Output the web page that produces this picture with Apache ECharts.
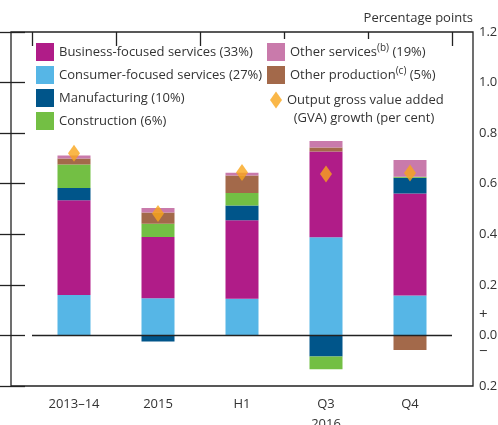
<!DOCTYPE html>
<html>
<head>
<meta charset="utf-8">
<script src="https://cdn.jsdelivr.net/npm/echarts@6/dist/echarts.min.js"></script>
<style>
  html, body { margin: 0; padding: 0; background: #fff; }
  #chart { width: 498px; height: 425px; }
</style>
</head>
<body>
<div id="chart"></div>
<script>
// categories (2016 half/quarters grouped under one label)
var categories = ['2013–14', '2015', 'H1', 'Q3\n2016', 'Q4'];
// contributions, percentage points
var consumer = [0.160, 0.147, 0.145, 0.388, 0.158];
var business = [0.375, 0.242, 0.311, 0.339, 0.403];
var manufacturing = [0.048, -0.024, 0.058, -0.083, 0.063];
var construction = [0.093, 0.053, 0.049, -0.051, 0.004];
var otherProduction = [0.024, 0.044, 0.069, 0.016, -0.058];
var otherServices = [0.012, 0.018, 0.011, 0.026, 0.066];
// GVA growth, per cent
var gva = [0.720, 0.482, 0.644, 0.638, 0.642];
// y axis ticks
var yMin = -0.2, yMax = 1.2, yStep = 0.2;

var font = '"Open Sans", "Noto Sans", sans-serif';
var textColor = '#333';

var chart = echarts.init(document.getElementById('chart'));

function bar(name, data, color) {
  return {
    name: name,
    type: 'bar',
    stack: 'total',
    xAxisIndex: 0,
    yAxisIndex: 2,
    barWidth: 33,
    data: data,
    itemStyle: { color: color },
    emphasis: { disabled: true }
  };
}

var series = [
  bar('Consumer-focused services (27%)', consumer, '#56B6E6'),
  bar('Business-focused services (33%)', business, '#B01C88'),
  bar('Manufacturing (10%)', manufacturing, '#00558A'),
  bar('Construction (6%)', construction, '#73BF44'),
  bar('Other production (5%)', otherProduction, '#A3694A'),
  bar('Other services (19%)', otherServices, '#C97AAB'),
  {
    name: 'GVA',
    type: 'scatter',
    xAxisIndex: 0,
    yAxisIndex: 2,
    symbol: 'diamond',
    symbolSize: [12, 17],
    data: gva,
    itemStyle: { color: '#F9A51A' },
    z: 5
  }
];
// zero line across the bar area
series[0].markLine = {
  silent: true,
  symbol: 'none',
  label: { show: false },
  lineStyle: { color: '#222', type: 'solid', width: 1.3 },
  data: [{ yAxis: 0 }]
};

var legendText = {
  fontFamily: font,
  fontSize: 13,
  color: textColor,
  rich: {
    s: { fontFamily: font, fontSize: 10, color: textColor, padding: [0, 0, 7, 0] }
  }
};

var option = {
  animation: false,
  textStyle: { fontFamily: font },
  title: {
    text: 'Percentage points',
    right: 25,
    top: 12,
    padding: 0,
    textStyle: { fontFamily: font, fontSize: 13, fontWeight: 'normal', color: textColor }
  },
  legend: [
    {
      left: 36, top: 43, orient: 'vertical', padding: 0,
      itemWidth: 18, itemHeight: 18, itemGap: 5,
      selectedMode: false, icon: 'rect',
      textStyle: legendText,
      data: ['Business-focused services (33%)', 'Consumer-focused services (27%)',
             'Manufacturing (10%)', 'Construction (6%)']
    },
    {
      left: 267, top: 43, orient: 'vertical', padding: 0,
      itemWidth: 18, itemHeight: 18, itemGap: 5,
      selectedMode: false, icon: 'rect',
      textStyle: legendText,
      formatter: function (name) {
        if (name === 'Other services (19%)') return 'Other services{s|(b)} (19%)';
        if (name === 'Other production (5%)') return 'Other production{s|(c)} (5%)';
        return name;
      },
      data: ['Other services (19%)', 'Other production (5%)']
    },
    {
      // empty first line keeps the diamond level with the first text line
      left: 270, top: 73, orient: 'vertical', padding: 0,
      itemWidth: 12, itemHeight: 17, itemGap: 5,
      selectedMode: false, icon: 'diamond',
      textStyle: { fontFamily: font, fontSize: 13, color: textColor, lineHeight: 18 },
      formatter: function () {
        return ' \nOutput gross value added\n  (GVA) growth (per cent)';
      },
      data: ['GVA']
    }
  ],
  grid: [
    { left: 11, right: 25, top: 32, bottom: 39, outerBoundsMode: 'none',
      show: true, borderColor: '#222', borderWidth: 1.3 },
    { left: 32, right: 46, top: 32, bottom: 39, outerBoundsMode: 'none' }
  ],
  graphic: [
    { type: 'text', left: 479, top: 307, style: { text: '+', fontFamily: font, fontSize: 15, fill: textColor } },
    { type: 'text', left: 479, top: 344, style: { text: '−', fontFamily: font, fontSize: 15, fill: textColor } }
  ],
  xAxis: [
    {
      type: 'category',
      gridIndex: 1,
      data: categories,
      axisLine: { show: false },
      axisTick: { show: false },
      axisLabel: {
        margin: 8, fontFamily: font, fontSize: 13, color: textColor, lineHeight: 20
      }
    },
    {
      type: 'value', gridIndex: 1, min: 0, max: 5, interval: 1,
      axisLine: { show: false },
      axisLabel: { show: false },
      splitLine: { show: false },
      axisTick: { inside: true, length: 14, customValues: [0, 1, 2, 5], lineStyle: { color: '#222', width: 1.3 } }
    },
    {
      type: 'value', gridIndex: 1, min: 0, max: 5, interval: 1,
      axisLine: { show: false },
      axisLabel: { show: false },
      splitLine: { show: false },
      axisTick: { inside: true, length: 7, customValues: [3, 4], lineStyle: { color: '#222', width: 1.3 } }
    },
    {
      type: 'value', gridIndex: 0, min: 0, max: 1,
      show: false
    }
  ],
  yAxis: [
    {
      type: 'value', gridIndex: 0, position: 'right',
      min: yMin, max: yMax, interval: yStep,
      axisLine: { show: false },
      splitLine: { show: false },
      axisTick: { show: true, inside: true, length: 13, lineStyle: { color: '#222', width: 1.3 } },
      axisLabel: {
        margin: 6, fontFamily: font, fontSize: 13, color: textColor,
        formatter: function (v) { return Math.abs(v).toFixed(1); }
      }
    },
    {
      type: 'value', gridIndex: 0, position: 'left',
      min: yMin, max: yMax, interval: yStep,
      axisLine: { show: false },
      splitLine: { show: false },
      axisLabel: { show: false },
      axisTick: { show: true, inside: true, length: 14, lineStyle: { color: '#222', width: 1.3 } }
    },
    {
      type: 'value', gridIndex: 1,
      min: yMin, max: yMax, interval: yStep,
      show: false
    }
  ],
  series: series
};

chart.setOption(option);
</script>
</body>
</html>
